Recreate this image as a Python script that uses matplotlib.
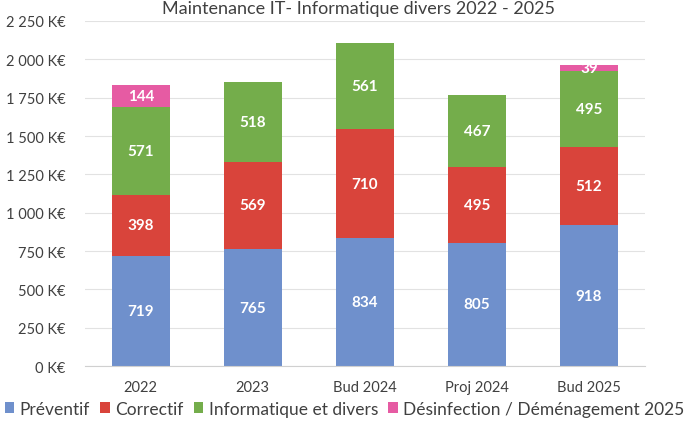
import numpy as np
import matplotlib
matplotlib.use("Agg")
import matplotlib.pyplot as plt
from matplotlib.ticker import FuncFormatter

categories = ["2022", "2023", "Bud 2024", "Proj 2024", "Bud 2025"]
preventif = [719, 765, 834, 805, 918]
correctif = [398, 569, 710, 495, 512]
informatique = [571, 518, 561, 467, 495]
desinfection = [144, 0, 0, 0, 39]

series = [
    ("Préventif", preventif, "#6F90CC"),
    ("Correctif", correctif, "#D9443B"),
    ("Informatique et divers", informatique, "#74AD4B"),
    ("Désinfection / Déménagement 2025", desinfection, "#E65BA3"),
]

plt.rcParams["font.family"] = ["Lato", "DejaVu Sans"]

fig = plt.figure(figsize=(6.89, 4.31), dpi=100)
ax = fig.add_axes([0.123, 0.148, 0.813, 0.801])

x = np.arange(len(categories))
bottom = np.zeros(len(categories))
for name, vals, color in series:
    vals = np.array(vals, dtype=float)
    ax.bar(x, vals, 0.52, bottom=bottom, color=color, label=name, zorder=2)
    for xi, b, v in zip(x, bottom, vals):
        if v > 0:
            ax.text(xi, b + v / 2, f"{int(v)}", ha="center", va="center",
                    color="white", fontsize=11, fontweight="bold", zorder=3)
    bottom += vals

ax.set_xlim(-0.5, len(categories) - 0.5)
ax.set_ylim(0, 2250)
ax.set_yticks(np.arange(0, 2251, 250))
ax.yaxis.set_major_formatter(
    FuncFormatter(lambda v, p: f"{int(v):,}".replace(",", " ") + " K€"))
ax.set_xticks(x)
ax.set_xticklabels(categories)
ax.tick_params(axis="both", length=0, labelsize=10.5, colors="#404040")
ax.tick_params(axis="x", pad=10)
ax.tick_params(axis="y", pad=14)
ax.yaxis.grid(True, color="#E2E2E2", linewidth=0.8, zorder=0)
for s in ["top", "right", "left"]:
    ax.spines[s].set_visible(False)
ax.spines["bottom"].set_color("#D0D0D0")

fig.text(0.52, 0.998, "Maintenance IT- Informatique divers 2022 - 2025",
         ha="center", va="top", fontsize=13, color="#404040")

fig.legend(loc="lower center", bbox_to_anchor=(0.5, -0.005), ncol=4, frameon=False,
           fontsize=12.5, handlelength=0.55, handleheight=0.6, handletextpad=0.3,
           columnspacing=0.6, labelcolor="#404040")

fig.savefig("out.png", dpi=100)
